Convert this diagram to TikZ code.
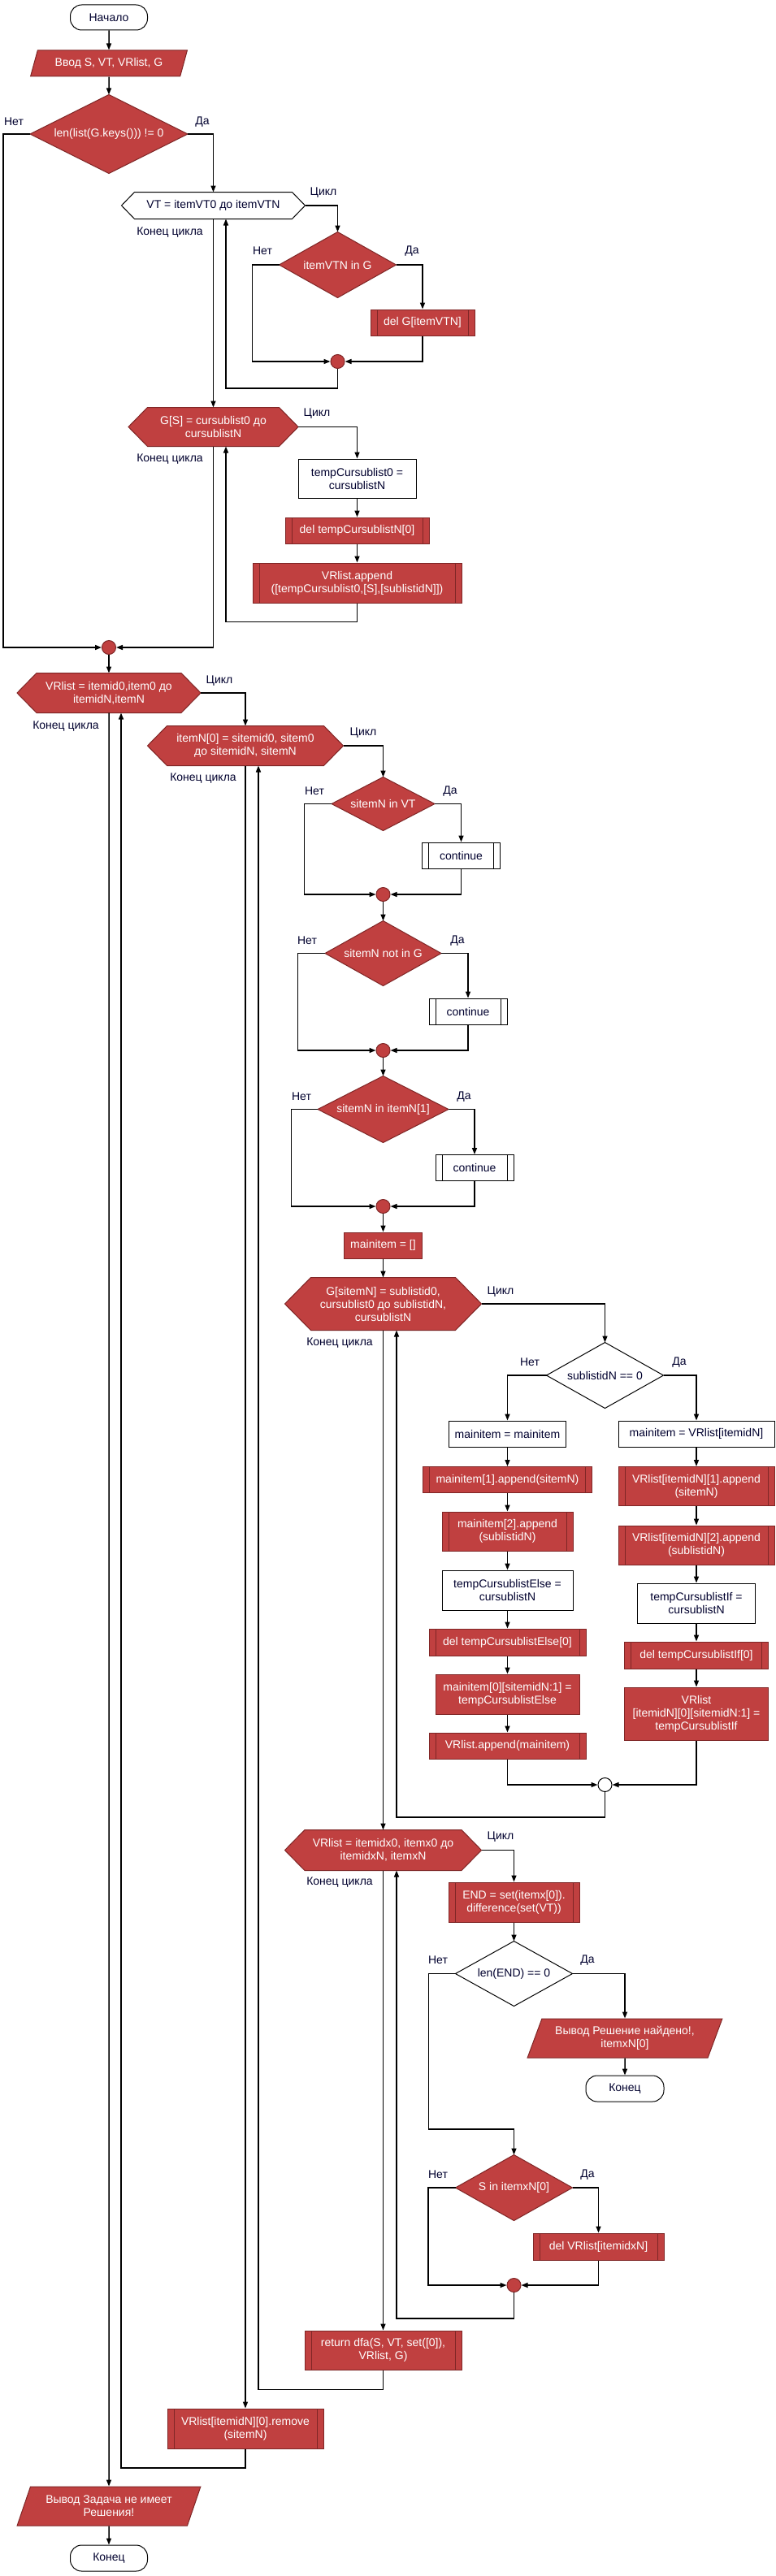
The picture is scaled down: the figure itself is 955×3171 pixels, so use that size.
\documentclass[tikz,border=0pt]{standalone}
\usepackage{fontspec}
\setmainfont{Liberation Sans}
\usetikzlibrary{shapes.geometric,arrows.meta,backgrounds,calc}
\pgfdeclarelayer{bottom}
\pgfsetlayers{bottom,background,main}
\definecolor{rfill}{HTML}{C04040}
\definecolor{rdraw}{HTML}{7F2626}
\definecolor{lbl}{HTML}{00002E}
\newcommand\hexbg[3]{%
  \begin{pgfonlayer}{background}
  \path[#3] (#1.west) -- ([xshift=#2]#1.north west) -- ([xshift=-#2]#1.north east) -- (#1.east) -- ([xshift=-#2]#1.south east) -- ([xshift=#2]#1.south west) -- cycle;
  \end{pgfonlayer}}
\newcommand\diabg[2]{%
  \begin{pgfonlayer}{background}
  \path[#2] (#1.north) -- (#1.east) -- (#1.south) -- (#1.west) -- cycle;
  \end{pgfonlayer}}
\tikzset{
  base/.style={font=\fontsize{14}{16}\selectfont, align=center, inner sep=0pt, line width=1pt},
  term/.style={base, rectangle, rounded corners=14pt, draw=black, fill=white, text=lbl},
  redbox/.style={base, rectangle, draw=rdraw, fill=rfill, text=white},
  whitebox/.style={base, rectangle, draw=black, fill=white, text=lbl},
  predef/.style={path picture={\draw[line width=1pt,#1] ([xshift=8pt]path picture bounding box.north west) -- ([xshift=8pt]path picture bounding box.south west) ([xshift=-8pt]path picture bounding box.north east) -- ([xshift=-8pt]path picture bounding box.south east);}},
  predef/.default=black,
  hexn/.style={base, rectangle},
  para/.style={base, trapezium, trapezium left angle=63, trapezium right angle=117, trapezium stretches=true, draw=rdraw, fill=rfill, text=white},
  junc/.style={circle, minimum size=17pt, inner sep=0pt, draw=rdraw, fill=rfill, line width=1pt},
  wjunc/.style={circle, minimum size=17pt, inner sep=0pt, draw=black, fill=white, line width=1pt},
  conn/.style={line width=1.5pt, -{Triangle[length=8pt,width=6pt]}},
  lab/.style={font=\fontsize{14}{16}\selectfont, text=lbl, inner sep=0pt},
  redhex/.style={fill=rfill,draw=rdraw,line width=1pt},
  whitehex/.style={fill=white,draw=black,line width=1pt}
}
\begin{document}
\begin{tikzpicture}[x=1pt,y=-1pt]
\begin{pgfonlayer}{bottom}
\fill[white] (0,0) rectangle (955,3171);
\end{pgfonlayer}
\useasboundingbox (0,0) rectangle (955,3171);

% ---------- nodes ----------
\node[term, minimum width=95pt, minimum height=31pt] (start) at (134,21.5) {Начало};
\node[para, minimum width=193pt, minimum height=32pt] (inp) at (134,78) {Ввод S, VT, VRlist, G};
\node[hexn, minimum width=193pt, minimum height=96pt, text=white] (d1) at (134,165) {len(list(G.keys())) != 0};
\diabg{d1}{redhex}

\node[hexn, minimum width=225pt, minimum height=32pt, text=lbl] (h1) at (262.5,253) {VT = itemVT0 до itemVTN};
\hexbg{h1}{16pt}{whitehex}
\node[hexn, minimum width=143pt, minimum height=80pt, text=white] (d2) at (415.5,326) {itemVTN in G};
\diabg{d2}{redhex}
\node[redbox, predef=rdraw, minimum width=128pt, minimum height=32pt] (b1) at (520,397) {del G[itemVTN]};
\node[junc] (j1) at (415.5,445) {};

\node[hexn, minimum width=208pt, minimum height=47pt, text=white] (h2) at (262.5,525.5) {G[S] = cursublist0 до\\cursublistN};
\hexbg{h2}{23.5pt}{redhex}
\node[whitebox, minimum width=145pt, minimum height=48pt] (b2) at (439.5,589) {tempCursublist0 =\\cursublistN};
\node[redbox, predef=rdraw, minimum width=177pt, minimum height=32pt] (b3) at (439.5,653) {del tempCursublistN[0]};
\node[redbox, predef=rdraw, minimum width=257pt, minimum height=49pt] (b4) at (439.5,717.5) {VRlist.append\\{}([tempCursublist0,[S],[sublistidN]])};
\node[junc] (j2) at (134,797) {};

\node[hexn, minimum width=225pt, minimum height=48pt, text=white] (h3) at (134,853) {VRlist = itemid0,item0 до\\itemidN,itemN};
\hexbg{h3}{24pt}{redhex}
\node[hexn, minimum width=240pt, minimum height=48pt, text=white] (h4) at (302,918) {itemN[0] = sitemid0, sitem0\\до sitemidN, sitemN};
\hexbg{h4}{24pt}{redhex}

\node[hexn, minimum width=126pt, minimum height=65pt, text=white] (d3) at (471.5,989.5) {sitemN in VT};
\diabg{d3}{redhex}
\node[whitebox, predef, minimum width=96pt, minimum height=32pt] (c1) at (567.5,1053) {continue};
\node[junc] (j3) at (471.5,1101) {};
\node[hexn, minimum width=142pt, minimum height=79pt, text=white] (d4) at (471.5,1173.5) {sitemN not in G};
\diabg{d4}{redhex}
\node[whitebox, predef, minimum width=96pt, minimum height=32pt] (c2) at (576,1245) {continue};
\node[junc] (j4) at (471.5,1293) {};
\node[hexn, minimum width=160pt, minimum height=81pt, text=white] (d5) at (471.5,1365.5) {sitemN in itemN[1]};
\diabg{d5}{redhex}
\node[whitebox, predef, minimum width=96pt, minimum height=32pt] (c3) at (584,1437.5) {continue};
\node[junc] (j5) at (471.5,1485) {};
\node[redbox, minimum width=96pt, minimum height=32pt] (b5) at (471.5,1533) {mainitem = []};

\node[hexn, minimum width=241pt, minimum height=64pt, text=white] (h5) at (471.5,1605) {G[sitemN] = sublistid0,\\cursublist0 до sublistidN,\\cursublistN};
\hexbg{h5}{32pt}{redhex}
\node[hexn, minimum width=143pt, minimum height=80pt, text=lbl] (d6) at (744.5,1693) {sublistidN == 0};
\diabg{d6}{whitehex}

\node[whitebox, minimum width=144pt, minimum height=32pt] (l1) at (624.5,1765) {mainitem = mainitem};
\node[redbox, predef=rdraw, minimum width=208pt, minimum height=32pt] (l2) at (624.5,1821.5) {mainitem[1].append(sitemN)};
\node[redbox, predef=rdraw, minimum width=161pt, minimum height=48pt] (l3) at (624.5,1885) {mainitem[2].append\\(sublistidN)};
\node[whitebox, minimum width=161pt, minimum height=49pt] (l4) at (624.5,1957.5) {tempCursublistElse =\\cursublistN};
\node[redbox, predef=rdraw, minimum width=193pt, minimum height=33pt] (l5) at (624.5,2021.5) {del tempCursublistElse[0]};
\node[redbox, minimum width=177pt, minimum height=49pt] (l6) at (624.5,2085.5) {mainitem[0][sitemidN:1] =\\tempCursublistElse};
\node[redbox, predef=rdraw, minimum width=193pt, minimum height=32pt] (l7) at (624.5,2149) {VRlist.append(mainitem)};

\node[whitebox, minimum width=192pt, minimum height=32pt] (r1) at (857,1765) {mainitem = VRlist[itemidN]};
\node[redbox, predef=rdraw, minimum width=192pt, minimum height=48pt] (r2) at (857,1829.5) {VRlist[itemidN][1].append\\(sitemN)};
\node[redbox, predef=rdraw, minimum width=192pt, minimum height=48pt] (r3) at (857,1902) {VRlist[itemidN][2].append\\(sublistidN)};
\node[whitebox, minimum width=145pt, minimum height=49pt] (r4) at (857,1973.5) {tempCursublistIf =\\cursublistN};
\node[redbox, predef=rdraw, minimum width=177pt, minimum height=33pt] (r5) at (857,2037.5) {del tempCursublistIf[0]};
\node[redbox, minimum width=177pt, minimum height=65pt] (r6) at (857,2109.5) {VRlist\\{}[itemidN][0][sitemidN:1] =\\tempCursublistIf};
\node[wjunc] (j6) at (744.5,2197) {};

\node[hexn, minimum width=241pt, minimum height=49pt, text=white] (h6) at (471.5,2277.5) {VRlist = itemidx0, itemx0 до\\itemidxN, itemxN};
\hexbg{h6}{24.5pt}{redhex}
\node[redbox, predef=rdraw, minimum width=161pt, minimum height=49pt] (b6) at (632.5,2341.5) {END = set(itemx[0]).\\difference(set(VT))};
\node[hexn, minimum width=143pt, minimum height=79pt, text=lbl] (d7) at (632.5,2429.5) {len(END) == 0};
\diabg{d7}{whitehex}
\node[para, minimum width=240pt, minimum height=48pt] (o1) at (769,2509) {Вывод Решение найдено!,\\itemxN[0]};
\node[term, minimum width=96pt, minimum height=32pt] (e1) at (769,2571) {Конец};
\node[hexn, minimum width=143pt, minimum height=80pt, text=white] (d8) at (632.5,2693) {S in itemxN[0]};
\diabg{d8}{redhex}
\node[redbox, predef=rdraw, minimum width=161pt, minimum height=33pt] (b7) at (736.5,2765.5) {del VRlist[itemidxN]};
\node[junc] (j7) at (632.5,2813) {};
\node[redbox, predef=rdraw, minimum width=193pt, minimum height=48pt] (b8) at (471.5,2893) {return dfa(S, VT, set([0]),\\VRlist, G)};
\node[redbox, predef=rdraw, minimum width=192pt, minimum height=49pt] (b9) at (302,2989.5) {VRlist[itemidN][0].remove\\(sitemN)};
\node[para, minimum width=226pt, minimum height=48pt] (o2) at (134,3085) {Вывод Задача не имеет\\Решения!};
\node[term, minimum width=95pt, minimum height=32pt] (e2) at (134,3149) {Конец};

\coordinate (k1) at (527.5,2621);

% ---------- labels ----------
\node[lab] (t1) at (17,150) {Нет};
\node[lab] (t2) at (249,150) {Да};
\node[lab] (t3) at (398,237) {Цикл};
\node[lab] (t4) at (209,286) {Конец цикла};
\node[lab] (t5) at (323,309) {Нет};
\node[lab] (t6) at (507,309) {Да};
\node[lab] (t7) at (390,509) {Цикл};
\node[lab] (t8) at (209,565) {Конец цикла};
\node[lab] (t9) at (270,838) {Цикл};
\node[lab] (t10) at (81,894) {Конец цикла};
\node[lab] (t11) at (447,902) {Цикл};
\node[lab] (t12) at (250,958) {Конец цикла};
\node[lab] (t13) at (387,974) {Нет};
\node[lab] (t14) at (554,974) {Да};
\node[lab] (t15) at (378,1158) {Нет};
\node[lab] (t16) at (563,1158) {Да};
\node[lab] (t17) at (371,1350) {Нет};
\node[lab] (t18) at (571,1350) {Да};
\node[lab] (t19) at (616,1590) {Цикл};
\node[lab] (t20) at (418,1653) {Конец цикла};
\node[lab] (t21) at (652,1677) {Нет};
\node[lab] (t22) at (836,1677) {Да};
\node[lab] (t23) at (616,2261) {Цикл};
\node[lab] (t24) at (418,2317) {Конец цикла};
\node[lab] (t25) at (539,2413) {Нет};
\node[lab] (t26) at (723,2413) {Да};
\node[lab] (t27) at (539,2677) {Нет};
\node[lab] (t28) at (723,2677) {Да};

% ---------- connectors ----------
\draw[conn] (start) -- (inp);
\draw[conn] (inp.south) -- (d1.north);
\draw[conn] (d1.east) -| (h1.north);
\draw[conn] (d1.west) -- ++(-33,0) |- (j2.west);
\draw[conn] (h1.east) -| (d2.north);
\draw[conn] (h1.south) -- (h2.north);
\draw[conn] (d2.west) -- ++(-33,0) |- (j1.west);
\draw[conn] (d2.east) -| (b1.north);
\draw[conn] (b1.south) |- (j1.east);
\draw[conn] (j1.south) -- ++(0,24) -| ([xshift=15.5pt]h1.south);
\draw[conn] (h2.east) -| (b2.north);
\draw[conn] (h2.south) |- (j2.east);
\draw[conn] (b2) -- (b3);
\draw[conn] (b3) -- (b4);
\draw[conn] (b4.south) -- ++(0,23) -| ([xshift=15.5pt]h2.south);
\draw[conn] (j2) -- (h3.north);
\draw[conn] (h3.east) -| (h4.north);
\draw[conn] (h3.south) -- (o2.north);
\draw[conn] (b9.south) -- ++(0,23.5) -| ([xshift=15pt]h3.south);
\draw[conn] (h4.east) -| (d3.north);
\draw[conn] (h4.south) -- (b9.north);
\draw[conn] (b8.south) -- ++(0,24) -| ([xshift=16pt]h4.south);
\draw[conn] (d3.west) -- ++(-33.5,0) |- (j3.west);
\draw[conn] (d3.east) -| (c1.north);
\draw[conn] (c1.south) |- (j3.east);
\draw[conn] (j3) -- (d4.north);
\draw[conn] (d4.west) -- ++(-33.5,0) |- (j4.west);
\draw[conn] (d4.east) -| (c2.north);
\draw[conn] (c2.south) |- (j4.east);
\draw[conn] (j4) -- (d5.north);
\draw[conn] (d5.west) -- ++(-32.5,0) |- (j5.west);
\draw[conn] (d5.east) -| (c3.north);
\draw[conn] (c3.south) |- (j5.east);
\draw[conn] (j5) -- (b5);
\draw[conn] (b5) -- (h5.north);
\draw[conn] (h5.east) -| (d6.north);
\draw[conn] (h5.south) -- (h6.north);
\draw[conn] (d6.west) -| (l1.north);
\draw[conn] (d6.east) -| (r1.north);
\draw[conn] (l1) -- (l2);
\draw[conn] (l2) -- (l3);
\draw[conn] (l3) -- (l4);
\draw[conn] (l4) -- (l5);
\draw[conn] (l5) -- (l6);
\draw[conn] (l6) -- (l7);
\draw[conn] (r1) -- (r2);
\draw[conn] (r2) -- (r3);
\draw[conn] (r3) -- (r4);
\draw[conn] (r4) -- (r5);
\draw[conn] (r5) -- (r6);
\draw[conn] (l7.south) |- (j6.west);
\draw[conn] (r6.south) |- (j6.east);
\draw[conn] (j6.south) -- ++(0,31) -| ([xshift=16.5pt]h5.south);
\draw[conn] (h6.east) -| (b6.north);
\draw[conn] (h6.south) -- (b8.north);
\draw[conn] (b6) -- (d7.north);
\draw[conn] (d7.west) -| (k1) -| (d8.north);
\draw[conn] (d7.east) -| (o1.north);
\draw[conn] (o1.south) -- (e1.north);
\draw[conn] (d8.west) -- ++(-33.5,0) |- (j7.west);
\draw[conn] (d8.east) -| (b7.north);
\draw[conn] (b7.south) |- (j7.east);
\draw[conn] (j7.south) -- ++(0,32) -| ([xshift=16.5pt]h6.south);
\draw[conn] (o2.south) -- (e2.north);
\end{tikzpicture}
\end{document}
